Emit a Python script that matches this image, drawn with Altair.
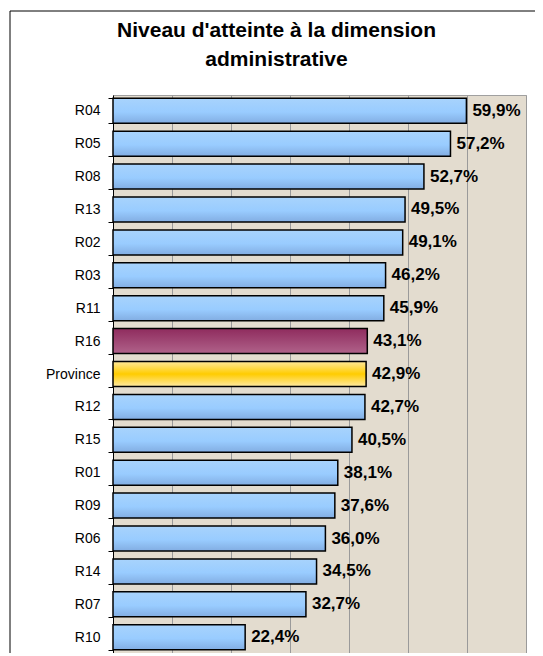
import altair as alt
import pandas as pd

regions = ["R04", "R05", "R08", "R13", "R02", "R03", "R11", "R16", "Province",
           "R12", "R15", "R01", "R09", "R06", "R14", "R07", "R10"]
values = [59.9, 57.2, 52.7, 49.5, 49.1, 46.2, 45.9, 43.1, 42.9,
          42.7, 40.5, 38.1, 37.6, 36.0, 34.5, 32.7, 22.4]
groups = ["autre", "autre", "autre", "autre", "autre", "autre", "autre", "r16", "province",
          "autre", "autre", "autre", "autre", "autre", "autre", "autre", "autre"]
x_ticks = [0, 10, 20, 30, 40, 50, 60, 70]
title_lines = ["Niveau d'atteinte à la dimension", "administrative"]

df = pd.DataFrame({"region": regions, "valeur": values, "groupe": groups})
df["label"] = [f"{v:.1f}%".replace(".", ",") for v in values]

FONT = "Liberation Sans"


def vgrad(stops):
    return alt.Gradient(
        gradient="linear", x1=0, x2=0, y1=0, y2=1,
        stops=[alt.GradientStop(color=c, offset=o) for o, c in stops],
    )


blue = vgrad([(0, "#a8d3fc"), (0.55, "#99ccff"), (1, "#82ade2")])
purple = vgrad([(0, "#8f2c5e"), (1, "#b0628a")])
yellow = vgrad([(0, "#ffe89a"), (0.5, "#ffcc00"), (1, "#ffe9a2")])

base = alt.Chart(df).encode(
    y=alt.Y(
        "region:N", sort=regions,
        scale=alt.Scale(paddingInner=0.24, paddingOuter=0.1),
        axis=alt.Axis(
            title=None, tickBand="extent", ticks=True, tickSize=5,
            tickColor="black", domainColor="black", labelFont=FONT,
            labelFontSize=14, labelColor="black", labelPadding=8, grid=False,
        ),
    ),
    x=alt.X(
        "valeur:Q",
        scale=alt.Scale(domain=[0, 70], nice=False),
        axis=alt.Axis(
            title=None, labels=False, values=x_ticks, tickSize=5,
            tickColor="black", domainColor="black", grid=True,
            gridColor="#9a9a9a", gridWidth=1,
        ),
    ),
)

bars_blue = base.transform_filter(alt.datum.groupe == "autre").mark_bar(
    color=blue, stroke="black", strokeWidth=1.5)
bars_r16 = base.transform_filter(alt.datum.groupe == "r16").mark_bar(
    color=purple, stroke="black", strokeWidth=1.5)
bars_prov = base.transform_filter(alt.datum.groupe == "province").mark_bar(
    color=yellow, stroke="black", strokeWidth=1.5)

labels = base.mark_text(
    align="left", baseline="middle", dx=6, fontSize=17, fontWeight="bold",
    font=FONT, color="black",
).encode(text="label:N")

one = pd.DataFrame({"a": [0]})
frame_top = alt.Chart(one).mark_rule(color="black", strokeWidth=1, clip=False).encode(
    x=alt.value(-103), x2=alt.value(430), y=alt.value(-84))
frame_left = alt.Chart(one).mark_rule(color="black", strokeWidth=1, clip=False).encode(
    x=alt.value(-103), y=alt.value(-84), y2=alt.value(600))

chart = alt.layer(frame_top, frame_left, bars_blue, bars_r16, bars_prov, labels).properties(
    width=413, height=558,
    autosize=alt.AutoSizeParams(type="none"),
    padding={"left": 105, "top": 87, "right": 9, "bottom": 0},
    title=alt.TitleParams(
        text=title_lines, font=FONT, fontSize=21, fontWeight="bold",
        color="black", anchor="middle", dx=-43, offset=-80, baseline="bottom",
        lineHeight=29,
    ),
).configure(background="white").configure_view(
    stroke="#a0a0a0", fill="#e3dccf",
)

chart.save("out.html", embed_options={"renderer": "svg", "actions": False})
